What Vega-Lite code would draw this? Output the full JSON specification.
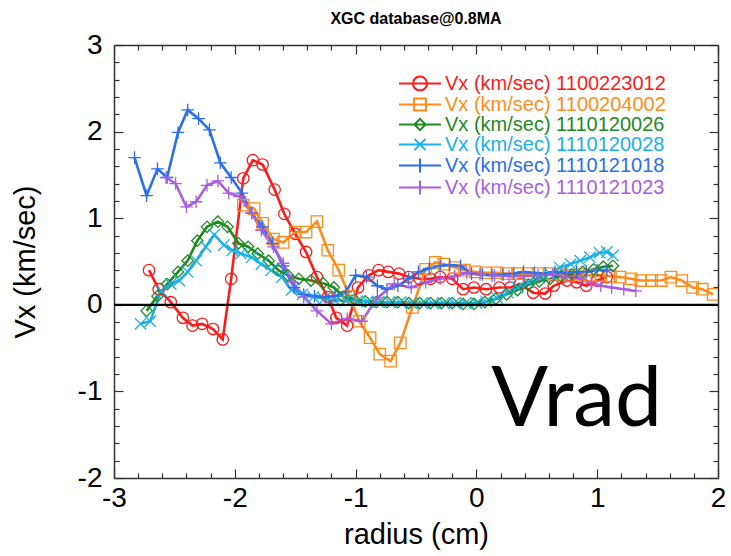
{
  "$schema": "https://vega.github.io/schema/vega-lite/v6.json",
  "width": 604,
  "height": 433,
  "autosize": {"type": "none"},
  "padding": {"left": 114, "top": 45, "right": 13, "bottom": 78},
  "background": "white",
  "title": {"text": "XGC database@0.8MA", "fontSize": 16, "font": "Liberation Sans", "fontWeight": "bold", "anchor": "middle", "offset": 4, "color": "black"},
  "config": {"view": {"stroke": null}, "font": "Liberation Sans"},
  "datasets": {
    "ids": [{"id": "1100223012"}, {"id": "1100204002"}, {"id": "1110120026"}, {"id": "1110120028"}, {"id": "1110121018"}, {"id": "1110121023"}],
    "pts": [
      {"id": "1100223012", "x": -2.71, "y": 0.40}, {"id": "1100223012", "x": -2.63, "y": 0.18}, {"id": "1100223012", "x": -2.53, "y": 0.03}, {"id": "1100223012", "x": -2.43, "y": -0.15}, {"id": "1100223012", "x": -2.35, "y": -0.24}, {"id": "1100223012", "x": -2.27, "y": -0.22}, {"id": "1100223012", "x": -2.18, "y": -0.28}, {"id": "1100223012", "x": -2.10, "y": -0.40}, {"id": "1100223012", "x": -2.03, "y": 0.30}, {"id": "1100223012", "x": -1.93, "y": 1.46}, {"id": "1100223012", "x": -1.85, "y": 1.67}, {"id": "1100223012", "x": -1.77, "y": 1.62}, {"id": "1100223012", "x": -1.67, "y": 1.33}, {"id": "1100223012", "x": -1.59, "y": 1.05}, {"id": "1100223012", "x": -1.50, "y": 0.82}, {"id": "1100223012", "x": -1.41, "y": 0.61}, {"id": "1100223012", "x": -1.32, "y": 0.32}, {"id": "1100223012", "x": -1.23, "y": 0.09}, {"id": "1100223012", "x": -1.16, "y": -0.15}, {"id": "1100223012", "x": -1.07, "y": -0.24}, {"id": "1100223012", "x": -0.98, "y": 0.20}, {"id": "1100223012", "x": -0.89, "y": 0.34}, {"id": "1100223012", "x": -0.81, "y": 0.40}, {"id": "1100223012", "x": -0.73, "y": 0.38}, {"id": "1100223012", "x": -0.64, "y": 0.36}, {"id": "1100223012", "x": -0.56, "y": 0.32}, {"id": "1100223012", "x": -0.47, "y": 0.30}, {"id": "1100223012", "x": -0.38, "y": 0.30}, {"id": "1100223012", "x": -0.30, "y": 0.32}, {"id": "1100223012", "x": -0.20, "y": 0.30}, {"id": "1100223012", "x": -0.11, "y": 0.18}, {"id": "1100223012", "x": -0.02, "y": 0.20}, {"id": "1100223012", "x": 0.08, "y": 0.18}, {"id": "1100223012", "x": 0.19, "y": 0.20}, {"id": "1100223012", "x": 0.28, "y": 0.20}, {"id": "1100223012", "x": 0.36, "y": 0.24}, {"id": "1100223012", "x": 0.47, "y": 0.14}, {"id": "1100223012", "x": 0.57, "y": 0.13}, {"id": "1100223012", "x": 0.64, "y": 0.22}, {"id": "1100223012", "x": 0.75, "y": 0.28}, {"id": "1100223012", "x": 0.83, "y": 0.26}, {"id": "1100223012", "x": 0.91, "y": 0.22}, {"id": "1100223012", "x": 1.00, "y": 0.28}, {"id": "1100223012", "x": 1.08, "y": 0.32},
      {"id": "1100204002", "x": -1.93, "y": 1.15}, {"id": "1100204002", "x": -1.84, "y": 1.11}, {"id": "1100204002", "x": -1.77, "y": 0.94}, {"id": "1100204002", "x": -1.68, "y": 0.76}, {"id": "1100204002", "x": -1.60, "y": 0.72}, {"id": "1100204002", "x": -1.50, "y": 0.84}, {"id": "1100204002", "x": -1.41, "y": 0.84}, {"id": "1100204002", "x": -1.32, "y": 0.96}, {"id": "1100204002", "x": -1.23, "y": 0.63}, {"id": "1100204002", "x": -1.14, "y": 0.40}, {"id": "1100204002", "x": -1.05, "y": 0.10}, {"id": "1100204002", "x": -0.97, "y": -0.19}, {"id": "1100204002", "x": -0.88, "y": -0.38}, {"id": "1100204002", "x": -0.80, "y": -0.57}, {"id": "1100204002", "x": -0.71, "y": -0.65}, {"id": "1100204002", "x": -0.63, "y": -0.44}, {"id": "1100204002", "x": -0.53, "y": -0.03}, {"id": "1100204002", "x": -0.42, "y": 0.41}, {"id": "1100204002", "x": -0.34, "y": 0.49}, {"id": "1100204002", "x": -0.27, "y": 0.47}, {"id": "1100204002", "x": -0.18, "y": 0.43}, {"id": "1100204002", "x": -0.10, "y": 0.40}, {"id": "1100204002", "x": -0.01, "y": 0.38}, {"id": "1100204002", "x": 0.08, "y": 0.37}, {"id": "1100204002", "x": 0.17, "y": 0.37}, {"id": "1100204002", "x": 0.25, "y": 0.36}, {"id": "1100204002", "x": 0.34, "y": 0.36}, {"id": "1100204002", "x": 0.43, "y": 0.36}, {"id": "1100204002", "x": 0.51, "y": 0.36}, {"id": "1100204002", "x": 0.60, "y": 0.36}, {"id": "1100204002", "x": 0.69, "y": 0.35}, {"id": "1100204002", "x": 0.77, "y": 0.34}, {"id": "1100204002", "x": 0.86, "y": 0.35}, {"id": "1100204002", "x": 0.94, "y": 0.34}, {"id": "1100204002", "x": 1.03, "y": 0.34}, {"id": "1100204002", "x": 1.11, "y": 0.33}, {"id": "1100204002", "x": 1.19, "y": 0.32}, {"id": "1100204002", "x": 1.28, "y": 0.30}, {"id": "1100204002", "x": 1.36, "y": 0.28}, {"id": "1100204002", "x": 1.45, "y": 0.28}, {"id": "1100204002", "x": 1.53, "y": 0.28}, {"id": "1100204002", "x": 1.61, "y": 0.32}, {"id": "1100204002", "x": 1.70, "y": 0.28}, {"id": "1100204002", "x": 1.79, "y": 0.20}, {"id": "1100204002", "x": 1.87, "y": 0.18}, {"id": "1100204002", "x": 1.96, "y": 0.12},
      {"id": "1110120026", "x": -2.73, "y": -0.07}, {"id": "1110120026", "x": -2.64, "y": 0.10}, {"id": "1110120026", "x": -2.56, "y": 0.24}, {"id": "1110120026", "x": -2.47, "y": 0.38}, {"id": "1110120026", "x": -2.39, "y": 0.51}, {"id": "1110120026", "x": -2.31, "y": 0.74}, {"id": "1110120026", "x": -2.23, "y": 0.90}, {"id": "1110120026", "x": -2.14, "y": 0.96}, {"id": "1110120026", "x": -2.06, "y": 0.90}, {"id": "1110120026", "x": -1.97, "y": 0.71}, {"id": "1110120026", "x": -1.89, "y": 0.67}, {"id": "1110120026", "x": -1.81, "y": 0.59}, {"id": "1110120026", "x": -1.72, "y": 0.51}, {"id": "1110120026", "x": -1.64, "y": 0.40}, {"id": "1110120026", "x": -1.56, "y": 0.34}, {"id": "1110120026", "x": -1.47, "y": 0.30}, {"id": "1110120026", "x": -1.37, "y": 0.28}, {"id": "1110120026", "x": -1.27, "y": 0.25}, {"id": "1110120026", "x": -1.18, "y": 0.20}, {"id": "1110120026", "x": -1.10, "y": 0.09}, {"id": "1110120026", "x": -1.01, "y": 0.06}, {"id": "1110120026", "x": -0.92, "y": 0.04}, {"id": "1110120026", "x": -0.83, "y": 0.03}, {"id": "1110120026", "x": -0.74, "y": 0.03}, {"id": "1110120026", "x": -0.65, "y": 0.03}, {"id": "1110120026", "x": -0.56, "y": 0.02}, {"id": "1110120026", "x": -0.47, "y": 0.02}, {"id": "1110120026", "x": -0.38, "y": 0.02}, {"id": "1110120026", "x": -0.29, "y": 0.02}, {"id": "1110120026", "x": -0.20, "y": 0.02}, {"id": "1110120026", "x": -0.11, "y": 0.01}, {"id": "1110120026", "x": -0.02, "y": 0.01}, {"id": "1110120026", "x": 0.07, "y": 0.03}, {"id": "1110120026", "x": 0.16, "y": 0.07}, {"id": "1110120026", "x": 0.25, "y": 0.12}, {"id": "1110120026", "x": 0.34, "y": 0.17}, {"id": "1110120026", "x": 0.43, "y": 0.23}, {"id": "1110120026", "x": 0.52, "y": 0.27}, {"id": "1110120026", "x": 0.61, "y": 0.30}, {"id": "1110120026", "x": 0.70, "y": 0.33}, {"id": "1110120026", "x": 0.79, "y": 0.35}, {"id": "1110120026", "x": 0.88, "y": 0.38}, {"id": "1110120026", "x": 0.97, "y": 0.41}, {"id": "1110120026", "x": 1.05, "y": 0.44}, {"id": "1110120026", "x": 1.13, "y": 0.45},
      {"id": "1110120028", "x": -2.78, "y": -0.22}, {"id": "1110120028", "x": -2.70, "y": -0.19}, {"id": "1110120028", "x": -2.61, "y": 0.16}, {"id": "1110120028", "x": -2.53, "y": 0.24}, {"id": "1110120028", "x": -2.46, "y": 0.28}, {"id": "1110120028", "x": -2.39, "y": 0.38}, {"id": "1110120028", "x": -2.32, "y": 0.51}, {"id": "1110120028", "x": -2.24, "y": 0.67}, {"id": "1110120028", "x": -2.17, "y": 0.81}, {"id": "1110120028", "x": -2.09, "y": 0.69}, {"id": "1110120028", "x": -2.02, "y": 0.63}, {"id": "1110120028", "x": -1.95, "y": 0.59}, {"id": "1110120028", "x": -1.86, "y": 0.55}, {"id": "1110120028", "x": -1.78, "y": 0.47}, {"id": "1110120028", "x": -1.70, "y": 0.40}, {"id": "1110120028", "x": -1.61, "y": 0.32}, {"id": "1110120028", "x": -1.53, "y": 0.17}, {"id": "1110120028", "x": -1.44, "y": 0.12}, {"id": "1110120028", "x": -1.35, "y": 0.09}, {"id": "1110120028", "x": -1.26, "y": 0.07}, {"id": "1110120028", "x": -1.17, "y": 0.05}, {"id": "1110120028", "x": -1.08, "y": 0.05}, {"id": "1110120028", "x": -0.99, "y": 0.04}, {"id": "1110120028", "x": -0.90, "y": 0.04}, {"id": "1110120028", "x": -0.81, "y": 0.03}, {"id": "1110120028", "x": -0.72, "y": 0.03}, {"id": "1110120028", "x": -0.63, "y": 0.03}, {"id": "1110120028", "x": -0.54, "y": 0.02}, {"id": "1110120028", "x": -0.45, "y": 0.02}, {"id": "1110120028", "x": -0.36, "y": 0.02}, {"id": "1110120028", "x": -0.27, "y": 0.02}, {"id": "1110120028", "x": -0.18, "y": 0.02}, {"id": "1110120028", "x": -0.09, "y": 0.02}, {"id": "1110120028", "x": 0.00, "y": 0.02}, {"id": "1110120028", "x": 0.08, "y": 0.04}, {"id": "1110120028", "x": 0.17, "y": 0.08}, {"id": "1110120028", "x": 0.26, "y": 0.14}, {"id": "1110120028", "x": 0.34, "y": 0.20}, {"id": "1110120028", "x": 0.43, "y": 0.26}, {"id": "1110120028", "x": 0.52, "y": 0.31}, {"id": "1110120028", "x": 0.61, "y": 0.36}, {"id": "1110120028", "x": 0.69, "y": 0.43}, {"id": "1110120028", "x": 0.78, "y": 0.47}, {"id": "1110120028", "x": 0.86, "y": 0.51}, {"id": "1110120028", "x": 0.94, "y": 0.55}, {"id": "1110120028", "x": 1.02, "y": 0.60}, {"id": "1110120028", "x": 1.08, "y": 0.61}, {"id": "1110120028", "x": 1.13, "y": 0.57},
      {"id": "1110121018", "x": -2.83, "y": 1.70}, {"id": "1110121018", "x": -2.73, "y": 1.26}, {"id": "1110121018", "x": -2.64, "y": 1.57}, {"id": "1110121018", "x": -2.56, "y": 1.47}, {"id": "1110121018", "x": -2.47, "y": 1.99}, {"id": "1110121018", "x": -2.39, "y": 2.25}, {"id": "1110121018", "x": -2.30, "y": 2.15}, {"id": "1110121018", "x": -2.21, "y": 2.02}, {"id": "1110121018", "x": -2.12, "y": 1.64}, {"id": "1110121018", "x": -2.03, "y": 1.47}, {"id": "1110121018", "x": -1.94, "y": 1.29}, {"id": "1110121018", "x": -1.86, "y": 1.06}, {"id": "1110121018", "x": -1.77, "y": 0.90}, {"id": "1110121018", "x": -1.69, "y": 0.71}, {"id": "1110121018", "x": -1.60, "y": 0.45}, {"id": "1110121018", "x": -1.51, "y": 0.20}, {"id": "1110121018", "x": -1.43, "y": 0.12}, {"id": "1110121018", "x": -1.34, "y": 0.10}, {"id": "1110121018", "x": -1.25, "y": 0.09}, {"id": "1110121018", "x": -1.17, "y": 0.10}, {"id": "1110121018", "x": -1.08, "y": 0.15}, {"id": "1110121018", "x": -1.00, "y": 0.34}, {"id": "1110121018", "x": -0.91, "y": 0.32}, {"id": "1110121018", "x": -0.82, "y": 0.22}, {"id": "1110121018", "x": -0.74, "y": 0.18}, {"id": "1110121018", "x": -0.65, "y": 0.22}, {"id": "1110121018", "x": -0.56, "y": 0.30}, {"id": "1110121018", "x": -0.48, "y": 0.38}, {"id": "1110121018", "x": -0.39, "y": 0.42}, {"id": "1110121018", "x": -0.30, "y": 0.45}, {"id": "1110121018", "x": -0.22, "y": 0.46}, {"id": "1110121018", "x": -0.13, "y": 0.45}, {"id": "1110121018", "x": -0.04, "y": 0.36}, {"id": "1110121018", "x": 0.05, "y": 0.35}, {"id": "1110121018", "x": 0.13, "y": 0.34}, {"id": "1110121018", "x": 0.22, "y": 0.35}, {"id": "1110121018", "x": 0.31, "y": 0.36}, {"id": "1110121018", "x": 0.39, "y": 0.38}, {"id": "1110121018", "x": 0.48, "y": 0.37}, {"id": "1110121018", "x": 0.57, "y": 0.36}, {"id": "1110121018", "x": 0.65, "y": 0.38}, {"id": "1110121018", "x": 0.74, "y": 0.37}, {"id": "1110121018", "x": 0.83, "y": 0.38}, {"id": "1110121018", "x": 0.91, "y": 0.38}, {"id": "1110121018", "x": 1.00, "y": 0.40}, {"id": "1110121018", "x": 1.08, "y": 0.40},
      {"id": "1110121023", "x": -2.57, "y": 1.47}, {"id": "1110121023", "x": -2.49, "y": 1.40}, {"id": "1110121023", "x": -2.40, "y": 1.13}, {"id": "1110121023", "x": -2.32, "y": 1.19}, {"id": "1110121023", "x": -2.23, "y": 1.38}, {"id": "1110121023", "x": -2.14, "y": 1.43}, {"id": "1110121023", "x": -2.05, "y": 1.29}, {"id": "1110121023", "x": -1.96, "y": 1.25}, {"id": "1110121023", "x": -1.86, "y": 1.06}, {"id": "1110121023", "x": -1.78, "y": 0.86}, {"id": "1110121023", "x": -1.68, "y": 0.67}, {"id": "1110121023", "x": -1.60, "y": 0.48}, {"id": "1110121023", "x": -1.52, "y": 0.26}, {"id": "1110121023", "x": -1.43, "y": 0.09}, {"id": "1110121023", "x": -1.32, "y": -0.07}, {"id": "1110121023", "x": -1.20, "y": -0.22}, {"id": "1110121023", "x": -1.07, "y": -0.16}, {"id": "1110121023", "x": -0.95, "y": -0.19}, {"id": "1110121023", "x": -0.82, "y": 0.08}, {"id": "1110121023", "x": -0.68, "y": 0.24}, {"id": "1110121023", "x": -0.54, "y": 0.20}, {"id": "1110121023", "x": -0.42, "y": 0.26}, {"id": "1110121023", "x": -0.30, "y": 0.30}, {"id": "1110121023", "x": -0.18, "y": 0.33}, {"id": "1110121023", "x": -0.08, "y": 0.37}, {"id": "1110121023", "x": 0.03, "y": 0.35}, {"id": "1110121023", "x": 0.15, "y": 0.34}, {"id": "1110121023", "x": 0.27, "y": 0.33}, {"id": "1110121023", "x": 0.39, "y": 0.33}, {"id": "1110121023", "x": 0.51, "y": 0.34}, {"id": "1110121023", "x": 0.63, "y": 0.35}, {"id": "1110121023", "x": 0.75, "y": 0.33}, {"id": "1110121023", "x": 0.86, "y": 0.30}, {"id": "1110121023", "x": 0.95, "y": 0.25}, {"id": "1110121023", "x": 1.03, "y": 0.22}, {"id": "1110121023", "x": 1.12, "y": 0.20}, {"id": "1110121023", "x": 1.22, "y": 0.18}, {"id": "1110121023", "x": 1.32, "y": 0.16}
    ]
  },
  "layer": [
    {
      "data": {"name": "pts"},
      "mark": {"type": "line", "strokeWidth": 2.6, "clip": true},
      "encoding": {
        "x": {"field": "x", "type": "quantitative", "scale": {"domain": [-3, 2], "nice": false, "zero": false},
          "axis": {"orient": "bottom", "values": [-3, -2.8, -2.6, -2.4, -2.2, -2, -1.8, -1.6, -1.4, -1.2, -1, -0.8, -0.6, -0.4, -0.2, 0, 0.2, 0.4, 0.6, 0.8, 1, 1.2, 1.4, 1.6, 1.8, 2],
            "labelExpr": "abs(datum.value-round(datum.value))<0.01 ? ''+round(datum.value) : ''",
            "tickSize": {"condition": {"test": "abs(datum.value-round(datum.value))<0.01", "value": -9}, "value": -5},
            "tickColor": "#333333", "tickWidth": 1.2, "domainColor": "#333333", "domainWidth": 1.5, "grid": false,
            "labelFontSize": 28, "labelColor": "black", "labelPadding": 15, "labelFlush": false, "labelOverlap": false, "labelBound": false,
            "title": "radius (cm)", "titleFontSize": 29, "titleFontWeight": "normal", "titleColor": "black", "titlePadding": 4}},
        "y": {"field": "y", "type": "quantitative", "scale": {"domain": [-2, 3], "nice": false, "zero": false},
          "axis": {"orient": "left", "values": [-2, -1.8, -1.6, -1.4, -1.2, -1, -0.8, -0.6, -0.4, -0.2, 0, 0.2, 0.4, 0.6, 0.8, 1, 1.2, 1.4, 1.6, 1.8, 2, 2.2, 2.4, 2.6, 2.8, 3],
            "labelExpr": "abs(datum.value-round(datum.value))<0.01 ? ''+round(datum.value) : ''",
            "tickSize": {"condition": {"test": "abs(datum.value-round(datum.value))<0.01", "value": -9}, "value": -5},
            "tickColor": "#333333", "tickWidth": 1.2, "domainColor": "#333333", "domainWidth": 1.5, "grid": false,
            "labelFontSize": 28, "labelColor": "black", "labelPadding": 21, "labelFlush": false, "labelOverlap": false, "labelBound": false,
            "title": "Vx (km/sec)", "titleFontSize": 29, "titleFontWeight": "normal", "titleColor": "black", "titlePadding": 37}},
        "color": {"field": "id", "type": "nominal", "legend": null,
          "scale": {"domain": ["1100223012", "1100204002", "1110120026", "1110120028", "1110121018", "1110121023"],
                    "range": ["#ff1a1a", "#ff8c1a", "#1f8a1f", "#1ab0e8", "#2a6ef0", "#a95ee0"]}}
      }
    },
    {
      "data": {"name": "pts"},
      "mark": {"type": "point", "filled": false, "strokeWidth": 1.3, "size": 130, "clip": true, "opacity": 1},
      "encoding": {
        "x": {"field": "x", "type": "quantitative", "scale": {"domain": [-3, 2], "nice": false, "zero": false},
          "axis": {"orient": "top", "values": [-3, -2.8, -2.6, -2.4, -2.2, -2, -1.8, -1.6, -1.4, -1.2, -1, -0.8, -0.6, -0.4, -0.2, 0, 0.2, 0.4, 0.6, 0.8, 1, 1.2, 1.4, 1.6, 1.8, 2],
            "labels": false, "title": null,
            "tickSize": {"condition": {"test": "abs(datum.value-round(datum.value))<0.01", "value": -9}, "value": -5},
            "tickColor": "#333333", "tickWidth": 1.2, "domainColor": "#333333", "domainWidth": 1.5, "grid": false}},
        "y": {"field": "y", "type": "quantitative", "scale": {"domain": [-2, 3], "nice": false, "zero": false},
          "axis": {"orient": "right", "values": [-2, -1.8, -1.6, -1.4, -1.2, -1, -0.8, -0.6, -0.4, -0.2, 0, 0.2, 0.4, 0.6, 0.8, 1, 1.2, 1.4, 1.6, 1.8, 2, 2.2, 2.4, 2.6, 2.8, 3],
            "labels": false, "title": null,
            "tickSize": {"condition": {"test": "abs(datum.value-round(datum.value))<0.01", "value": -9}, "value": -5},
            "tickColor": "#333333", "tickWidth": 1.2, "domainColor": "#333333", "domainWidth": 1.5, "grid": false}},
        "color": {"field": "id", "type": "nominal", "legend": null,
          "scale": {"domain": ["1100223012", "1100204002", "1110120026", "1110120028", "1110121018", "1110121023"],
                    "range": ["#ff1a1a", "#ff8c1a", "#1f8a1f", "#1ab0e8", "#2a6ef0", "#a95ee0"]}},
        "shape": {"field": "id", "type": "nominal", "legend": null,
          "scale": {"domain": ["1100223012", "1100204002", "1110120026", "1110120028", "1110121018", "1110121023"],
                    "range": ["circle", "square", "diamond", "M-1,-1L1,1M-1,1L1,-1", "M-1.1,0L1.1,0M0,-1.1L0,1.1", "M-1.1,0L1.1,0M0,-1.1L0,1.1"]}}
      }
    },
    {
      "data": {"values": [{}]},
      "mark": {"type": "rule", "color": "black", "strokeWidth": 2.2},
      "encoding": {
        "y": {"datum": 0, "type": "quantitative", "axis": null, "scale": {"domain": [-2, 3], "nice": false, "zero": false}}
      }
    },
    {
      "data": {"values": [{"label": "Vrad"}]},
      "mark": {"type": "text", "font": "Lato", "fontSize": 84, "align": "center", "baseline": "alphabetic", "color": "black"},
      "encoding": {
        "text": {"field": "label"},
        "x": {"datum": 0.83, "type": "quantitative", "axis": null, "scale": {"domain": [-3, 2], "nice": false, "zero": false}},
        "y": {"datum": -1.396, "type": "quantitative", "axis": null, "scale": {"domain": [-2, 3], "nice": false, "zero": false}}
      }
    },
    {
      "data": {"name": "ids"},
      "mark": {"type": "point", "filled": false, "strokeWidth": 2, "size": 196, "opacity": 0},
      "encoding": {
        "color": {
          "field": "id",
          "type": "nominal",
          "scale": {"domain": ["1100223012", "1100204002", "1110120026", "1110120028", "1110121018", "1110121023"],
                    "range": ["#ff1a1a", "#ff8c1a", "#1f8a1f", "#1ab0e8", "#2a6ef0", "#a95ee0"]},
          "legend": {
            "orient": "none", "legendX": 283, "legendY": 28.5, "title": null, "padding": 0,
            "labelExpr": "'Vx (km/sec) ' + datum.label", "labelFontSize": 20, "labelFont": "Liberation Sans", "labelLimit": 400,
            "labelColor": {"expr": "datum.value==='1100223012' ? '#ff1a1a' : datum.value==='1100204002' ? '#ff8c1a' : datum.value==='1110120026' ? '#1f8a1f' : datum.value==='1110120028' ? '#1ab0e8' : datum.value==='1110121018' ? '#2a6ef0' : '#a95ee0'"},
            "symbolSize": 196, "symbolStrokeWidth": 2, "symbolOffset": 13, "labelOffset": 15, "rowPadding": 0, "symbolOpacity": 1
          }
        },
        "shape": {
          "field": "id",
          "type": "nominal",
          "scale": {"domain": ["1100223012", "1100204002", "1110120026", "1110120028", "1110121018", "1110121023"],
                    "range": ["M-3,0L3,0M1,0A1,1,0,1,1,-1,0A1,1,0,1,1,1,0", "M-3,0L3,0M-0.85,-0.85L0.85,-0.85L0.85,0.85L-0.85,0.85Z", "M-3,0L3,0M0,-0.8L0.8,0L0,0.8L-0.8,0Z", "M-3,0L3,0M-0.8,-0.8L0.8,0.8M-0.8,0.8L0.8,-0.8", "M-3,0L3,0M0,-1L0,1", "M-3,0L3,0M0,-1L0,1"]},
          "legend": {
            "orient": "none", "legendX": 283, "legendY": 28.5, "title": null, "padding": 0,
            "labelExpr": "'Vx (km/sec) ' + datum.label", "labelFontSize": 20, "labelFont": "Liberation Sans", "labelLimit": 400,
            "labelColor": {"expr": "datum.value==='1100223012' ? '#ff1a1a' : datum.value==='1100204002' ? '#ff8c1a' : datum.value==='1110120026' ? '#1f8a1f' : datum.value==='1110120028' ? '#1ab0e8' : datum.value==='1110121018' ? '#2a6ef0' : '#a95ee0'"},
            "symbolSize": 196, "symbolStrokeWidth": 2, "symbolOffset": 13, "labelOffset": 15, "rowPadding": 0, "symbolOpacity": 1
          }
        }
      }
    }
  ],
  "resolve": {"axis": {"x": "independent", "y": "independent"}, "scale": {"shape": "independent", "color": "independent"}}
}
